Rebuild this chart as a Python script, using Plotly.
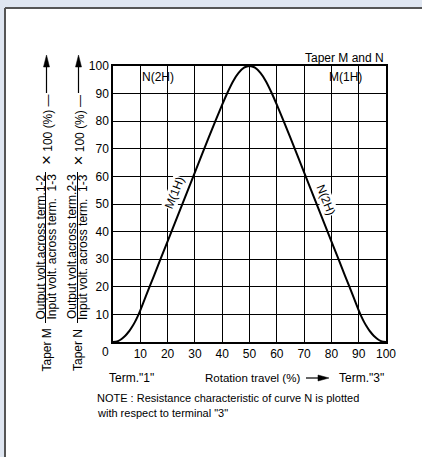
import plotly.graph_objects as go

# ---- data ----
travel = [0, 1, 2, 3, 4, 5, 6, 7, 8, 9, 10, 12, 15, 20, 25, 30, 35, 40, 42, 44, 46, 48, 50,
          52, 54, 56, 58, 60, 65, 70, 75, 80, 85, 88, 90, 91, 92, 93, 94, 95, 96, 97, 98, 99, 100]
output_pct = [0, 0.1, 0.4, 1.0, 1.8, 2.8, 4.0, 5.5, 7.2, 9.2, 11.5, 16.5, 24, 36.5, 49, 61.5, 74, 86, 90.5, 94.5, 97.5, 99.4, 100,
              99.4, 97.5, 94.5, 90.5, 86, 74, 61.5, 49, 36.5, 24, 16.5, 11.5, 9.2, 7.2, 5.5, 4.0, 2.8, 1.8, 1.0, 0.4, 0.1, 0]
x_ticks = [10, 20, 30, 40, 50, 60, 70, 80, 90, 100]
y_ticks = [10, 20, 30, 40, 50, 60, 70, 80, 90, 100]

W, H = 422, 457
FONT = "Liberation Sans, Arial, Helvetica, sans-serif"
OUTER = "#dfe6f1"

def px(x):
    return x / W

def py(y):
    return 1 - y / H

fig = go.Figure()
fig.add_trace(go.Scatter(x=travel, y=output_pct, mode="lines",
                         line=dict(color="black", width=2, shape="spline", smoothing=0.6),
                         hoverinfo="skip", showlegend=False))

shapes = [
    # outer light frame (top and left strips)
    dict(type="rect", xref="paper", yref="paper", x0=0, x1=1, y0=py(8), y1=1,
         fillcolor=OUTER, line=dict(width=0), layer="below"),
    dict(type="rect", xref="paper", yref="paper", x0=0, x1=px(5), y0=0, y1=1,
         fillcolor=OUTER, line=dict(width=0), layer="below"),
    # panel border (top and left)
    dict(type="line", xref="paper", yref="paper", x0=px(5), x1=1, y0=py(8), y1=py(8),
         line=dict(color="#555555", width=2), layer="below"),
    dict(type="line", xref="paper", yref="paper", x0=px(5), x1=px(5), y0=py(8), y1=0,
         line=dict(color="#555555", width=2), layer="below"),
]

# fraction bars for the two y-axis titles
for cx in (45.5, 77.5):
    shapes.append(dict(type="line", xref="paper", yref="paper", x0=px(cx), x1=px(cx),
                       y0=py(323), y1=py(172), line=dict(color="black", width=1)))
    # arrow shaft
    shapes.append(dict(type="line", xref="paper", yref="paper", x0=px(cx + 1), x1=px(cx + 1),
                       y0=py(93), y1=py(62), line=dict(color="black", width=1.2)))
    # arrow head
    shapes.append(dict(type="path", xref="paper", yref="paper",
                       path=f"M {px(cx-2)} {py(67)} L {px(cx+4)} {py(67)} L {px(cx+1)} {py(55)} Z",
                       fillcolor="black", line=dict(color="black", width=0.5)))

# arrow after "Rotation travel (%)"
shapes.append(dict(type="line", xref="paper", yref="paper", x0=px(306), x1=px(320),
                   y0=py(378), y1=py(378), line=dict(color="black", width=1.2)))
shapes.append(dict(type="path", xref="paper", yref="paper",
                   path=f"M {px(318)} {py(375)} L {px(318)} {py(381)} L {px(329)} {py(378)} Z",
                   fillcolor="black", line=dict(color="black", width=0.5)))

ann = []
def A(text, x, y, size=12, angle=0, xanchor="center", yanchor="middle", xref="paper", yref="paper", bg=None):
    d = dict(text=text, x=x, y=y, xref=xref, yref=yref, showarrow=False, textangle=angle,
             xanchor=xanchor, yanchor=yanchor, font=dict(family=FONT, size=size, color="black"))
    if bg:
        d["bgcolor"] = bg
        d["borderpad"] = 0
    ann.append(d)

# in-plot labels
A("N(2H)", 16.5, 96, xref="x", yref="y")
A("M(1H)", 85, 96, xref="x", yref="y")
A("Taper M and N", px(386), py(58), xanchor="right")
A("M(1H)", 22.5, 54, angle=-68, xref="x", yref="y", bg="white")
A("N(2H)", 78, 51.5, angle=68, xref="x", yref="y", bg="white")
A("0", px(105), py(352))

# y-axis titles (rotated)
for cx, name, num in ((46.5, "Taper M", "Output volt.across term.1-2"),
                      (78, "Taper N", "Output volt.across term.2-3")):
    A(name, px(cx), py(350), size=12, angle=-90)
    A(num, px(cx - 6), py(247), size=12, angle=-90)
    A("Input volt. across term.  1-3", px(cx + 5), py(247), size=12, angle=-90)
    A("<span style='font-size:17px'>×</span> 100 (%) —", px(cx + 0.5), py(130), size=12, angle=-90)

# bottom texts
A('Term."1"', px(107), py(378), xanchor="left")
A("Rotation travel (%)", px(302), py(378), size=11.5, xanchor="right")
A('Term."3"', px(386), py(378), xanchor="right")
A('NOTE : Resistance characteristic of curve N is plotted', px(95), py(398), size=11, xanchor="left")
A('with respect to terminal "3"', px(95), py(413), size=11, xanchor="left")

axis_common = dict(range=[0, 100], showgrid=True, gridcolor="black", gridwidth=1,
                   showline=True, mirror=True, linecolor="black", linewidth=1.5, ticks="",
                   zeroline=False, tickfont=dict(size=12, family=FONT, color="black"),
                   fixedrange=True, automargin=False)

fig.update_layout(
    template="none",
    width=W, height=H, margin=dict(l=0, r=0, t=0, b=0, pad=0), autosize=False,
    paper_bgcolor="white", plot_bgcolor="white",
    font=dict(family=FONT, size=12, color="black"),
    shapes=shapes, annotations=ann, showlegend=False,
    xaxis=dict(domain=[px(113), px(386)], tickvals=x_ticks,
               ticktext=[str(v) for v in x_ticks], **axis_common),
    yaxis=dict(domain=[py(342), py(66)], tickvals=y_ticks,
               ticktext=[str(v) for v in y_ticks], **axis_common),
)

fig.write_html("out.html", config={"displayModeBar": False},
               post_script=("document.body.style.margin='0';document.body.style.overflow='hidden';"
                            "document.documentElement.style.overflow='hidden';"))
